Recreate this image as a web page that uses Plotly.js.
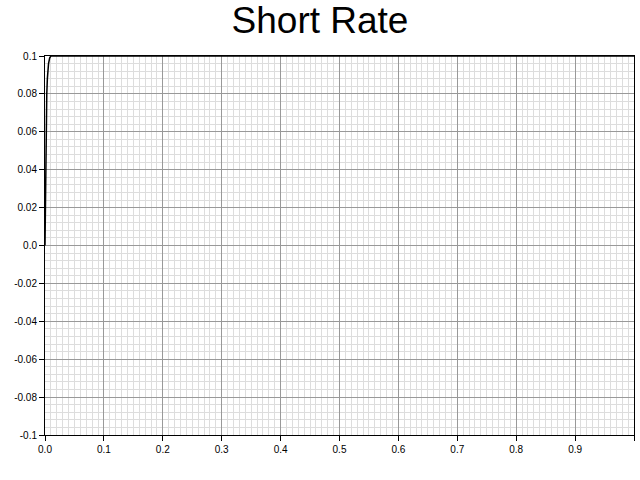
<!DOCTYPE html>
<html>
<head>
<script src="https://cdn.plot.ly/plotly-3.0.1.min.js"></script>
<style>body{margin:0}#chart{width:640px;height:480px}</style>
</head>
<body>
<div id="chart"></div>
<script>
const timeX = [0, 0.0005, 0.001, 0.002, 0.003, 0.004, 0.005, 0.006, 0.008, 0.01, 0.05, 0.2, 0.5, 1.0];
const rateY = [0, 0.02, 0.04, 0.065, 0.08, 0.088, 0.093, 0.096, 0.099, 0.1, 0.1, 0.1, 0.1, 0.1];
const xTickVals = [0, 0.1, 0.2, 0.3, 0.4, 0.5, 0.6, 0.7, 0.8, 0.9, 1.0];
const xTickText = ['0.0', '0.1', '0.2', '0.3', '0.4', '0.5', '0.6', '0.7', '0.8', '0.9', '1.0'];
const yTickVals = [-0.1, -0.08, -0.06, -0.04, -0.02, 0, 0.02, 0.04, 0.06, 0.08, 0.1];
const yTickText = ['-0.1', '-0.08', '-0.06', '-0.04', '-0.02', '0.0', '0.02', '0.04', '0.06', '0.08', '0.1'];

Plotly.newPlot('chart', [{
  x: timeX, y: rateY,
  type: 'scatter', mode: 'lines',
  line: { color: '#000', width: 1.5 },
  cliponaxis: false,
}], {
  width: 640, height: 480,
  paper_bgcolor: '#fff', plot_bgcolor: '#fff',
  margin: { t: 56, r: 6, b: 45, l: 45 },
  title: { text: 'Short Rate', font: { family: 'Liberation Sans, Arial', size: 37, color: '#000' }, x: 0.5, y: 0.985, yanchor: 'top' },
  font: { family: 'Liberation Sans, Arial', size: 10, color: '#000' },
  showlegend: false,
  xaxis: {
    range: [0, 1], tickvals: xTickVals, ticktext: xTickText,
    showline: true, linecolor: '#000', mirror: true,
    ticks: 'outside', ticklen: 5, tickcolor: '#000',
    gridcolor: '#999', gridwidth: 0.6, zeroline: false,
    minor: { dtick: 0.01, showgrid: true, gridcolor: '#ddd', gridwidth: 0.5 },
  },
  yaxis: {
    range: [-0.1, 0.1], tickvals: yTickVals, ticktext: yTickText,
    showline: true, linecolor: '#000', mirror: true,
    ticks: 'outside', ticklen: 5, tickcolor: '#000',
    gridcolor: '#999', gridwidth: 0.6, zeroline: false,
    minor: { dtick: 0.004, showgrid: true, gridcolor: '#ddd', gridwidth: 0.5 },
  },
}, { displayModeBar: false });
</script>
</body>
</html>
